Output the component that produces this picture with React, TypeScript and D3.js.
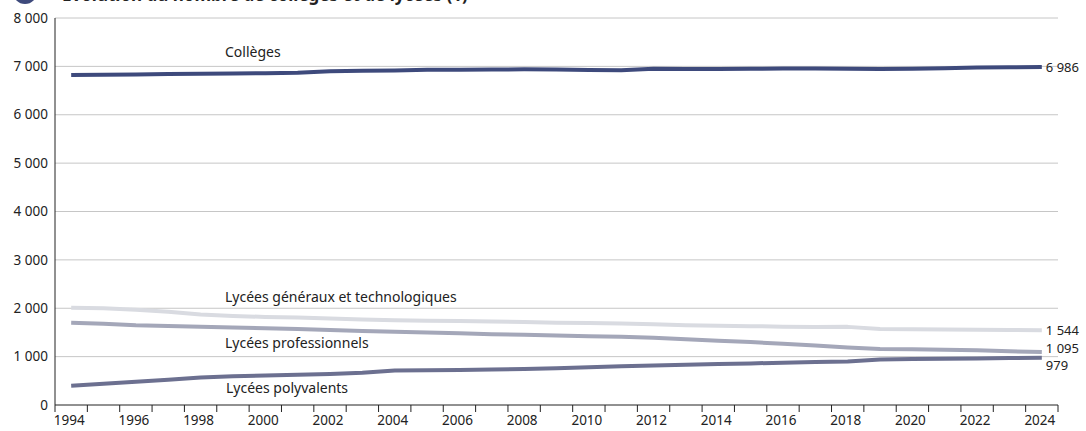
import React from 'react';
import * as d3 from 'd3';

const years = d3.range(1994, 2025).map(String);

const colleges = [6820, 6825, 6830, 6840, 6850, 6855, 6860, 6870, 6900, 6910, 6915, 6930, 6930, 6935, 6940, 6935, 6925, 6920, 6950, 6945, 6945, 6950, 6955, 6955, 6950, 6945, 6950, 6960, 6975, 6980, 6986];
const lyceesGT = [2010, 2000, 1970, 1930, 1870, 1840, 1820, 1810, 1790, 1770, 1750, 1740, 1735, 1725, 1715, 1700, 1695, 1685, 1670, 1650, 1640, 1630, 1620, 1610, 1615, 1570, 1565, 1560, 1555, 1550, 1544];
const lyceesPro = [1700, 1680, 1650, 1635, 1620, 1600, 1585, 1570, 1550, 1530, 1515, 1500, 1485, 1465, 1450, 1435, 1420, 1410, 1390, 1360, 1330, 1300, 1265, 1230, 1190, 1160, 1150, 1140, 1130, 1110, 1095];
const lyceesPoly = [400, 440, 480, 520, 570, 595, 610, 625, 640, 665, 715, 720, 725, 735, 745, 760, 780, 800, 815, 830, 845, 860, 875, 890, 900, 940, 950, 955, 960, 970, 979];

const yTicks = [0, 1000, 2000, 3000, 4000, 5000, 6000, 7000, 8000];

const series = [
  { name: 'Collèges', values: colleges, color: '#3e4a7c', endLabel: '6 986', labelX: 225, labelY: 57, endDy: 5 },
  { name: 'Lycées généraux et technologiques', values: lyceesGT, color: '#d9dbe1', endLabel: '1 544', labelX: 225, labelY: 302, endDy: 5 },
  { name: 'Lycées professionnels', values: lyceesPro, color: '#a4a7b9', endLabel: '1 095', labelX: 225, labelY: 348, endDy: 1 },
  { name: 'Lycées polyvalents', values: lyceesPoly, color: '#6c7090', endLabel: '979', labelX: 226, labelY: 393, endDy: 12 },
];

const fmt = (v: number) => d3.format(',')(v).replace(/,/g, ' ');

export default function App() {
  const width = 1086;
  const height = 431;
  const left = 55;
  const right = 1058;
  const top = 18;
  const bottom = 405;

  const x = d3.scaleBand<string>().domain(years).range([left, right]);
  const y = d3.scaleLinear().domain([0, 8000]).range([bottom, top]);
  const cx = (i: number) => (x(years[i]) ?? 0) + x.bandwidth() / 2;

  const line = d3.line<number>()
    .x((_, i) => cx(i))
    .y(d => y(d));

  const font = '"Noto Sans", "Open Sans", sans-serif';
  const lastX = cx(years.length - 1);

  return (
    <div style={{ position: 'absolute', left: 0, top: 0 }}>
      <svg width={width} height={height} style={{ display: 'block', fontFamily: font }}>
        <rect width={width} height={height} fill="#fff" />
        {/* title, mostly cropped in the reference */}
        <circle cx={25} cy={-8} r={12} fill="#3e4a7c" />
        <text x={62} y={1} fontSize={17} fontWeight="bold" fill="#222">
          Évolution du nombre de collèges et de lycées (1)
        </text>

        {yTicks.filter(t => t > 0).map(t => (
          <line key={t} x1={left} x2={right} y1={y(t)} y2={y(t)} stroke="#c6c6c6" strokeWidth={1} />
        ))}
        {yTicks.map(t => (
          <text key={'l' + t} x={48} y={y(t)} dy="0.35em" textAnchor="end" fontSize={13.5} fill="#222">
            {fmt(t)}
          </text>
        ))}

        <line x1={left} x2={left} y1={top} y2={bottom} stroke="#222" strokeWidth={1} />
        <line x1={left} x2={right} y1={bottom} y2={bottom} stroke="#222" strokeWidth={1} />
        {years.map(yr => (
          <line key={'t' + yr} x1={x(yr)} x2={x(yr)} y1={bottom} y2={bottom + 7} stroke="#222" />
        ))}
        <line x1={right} x2={right} y1={bottom} y2={bottom + 7} stroke="#222" />
        {years.filter((_, i) => i % 2 === 0).map(yr => (
          <text key={'x' + yr} x={(x(yr) ?? 0) + x.bandwidth() / 2 - 2} y={425} textAnchor="middle" fontSize={13.5} fill="#222">
            {yr}
          </text>
        ))}

        {series.map(s => (
          <g key={s.name}>
            <path d={line(s.values) || ''} fill="none" stroke={s.color} strokeWidth={4} strokeLinejoin="round" />
            <text x={s.labelX} y={s.labelY} fontSize={14} fill="#222">{s.name}</text>
            <text x={lastX + 4} y={y(s.values[s.values.length - 1]) + s.endDy} fontSize={13} fill="#222">
              {s.endLabel}
            </text>
          </g>
        ))}
      </svg>
    </div>
  );
}
